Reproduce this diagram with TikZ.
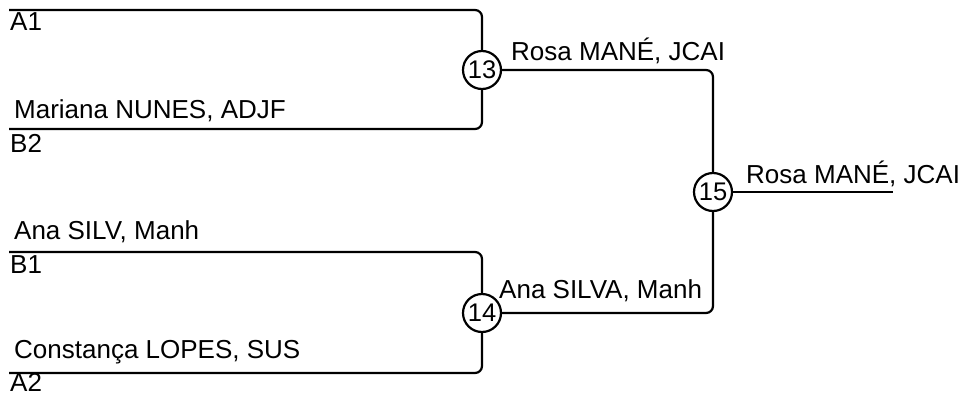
\documentclass[tikz,border=0pt]{standalone}
\usepackage{fontspec}
\setmainfont{Liberation Sans}
\begin{document}
\begin{tikzpicture}[x=1pt,y=-1pt,
  lbl/.style={anchor=base west,inner sep=0pt,font=\fontsize{26}{30}\selectfont},
  mnum/.style={circle,draw,line width=2.2pt,minimum size=38pt,inner sep=0pt,fill=white,font=\fontsize{25.5}{28}\selectfont},
  wire/.style={line width=2.2pt,rounded corners=7pt}]
\useasboundingbox (0,0) rectangle (972,394);
% match nodes
\node[mnum] (m13) at (482,70) {13};
\node[mnum] (m14) at (482,313) {14};
\node[mnum] (m15) at (713,192) {15};
% line ends
\coordinate (a1) at (9,10);
\coordinate (b2) at (9,129);
\coordinate (b1) at (9,252);
\coordinate (a2) at (9,373);
\coordinate (win) at (893,192);
% connectors
\draw[wire] (a1) -| (m13.north);
\draw[wire] (b2) -| (m13.south);
\draw[wire] (b1) -| (m14.north);
\draw[wire] (a2) -| (m14.south);
\draw[wire] (m13.east) -| (m15.north);
\draw[wire] (m14.east) -| (m15.south);
\draw[wire] (m15.east) -- (win);
% labels
\node[lbl] (tA1) at (10,30) {A1};
\node[lbl] (tMar) at (14,118) {Mariana NUNES, ADJF};
\node[lbl] (tB2) at (10,152) {B2};
\node[lbl] (tAna) at (14,239) {Ana SILV, Manh};
\node[lbl] (tB1) at (10,273) {B1};
\node[lbl] (tCon) at (14,358) {Constança LOPES, SUS};
\node[lbl] (tA2) at (10,391) {A2};
\node[lbl] (tR13) at (511,60) {Rosa MANÉ, JCAI};
\node[lbl] (tA14) at (499,298) {Ana SILVA, Manh};
\node[lbl] (tR15) at (746,183) {Rosa MANÉ, JCAI};
\end{tikzpicture}
\end{document}
